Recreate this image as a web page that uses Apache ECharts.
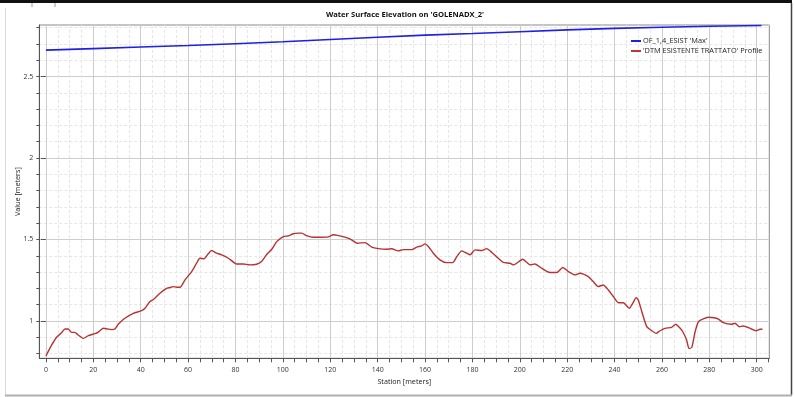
<!DOCTYPE html>
<html>
<head>
<meta charset="utf-8">
<script src="https://cdn.jsdelivr.net/npm/echarts@6/dist/echarts.min.js"></script>
<style>
html,body{margin:0;padding:0;background:#fff;}
#chart{width:794px;height:397px;}
</style>
</head>
<body>
<div id="chart"></div>
<script>
// ---- data ----
const wseStation = [0, 20, 40, 60, 80, 100, 120, 140, 160, 180, 200, 220, 240, 260, 280, 302];
const wseValue = [2.662, 2.671, 2.681, 2.690, 2.701, 2.713, 2.727, 2.741, 2.754, 2.764, 2.775, 2.786, 2.795, 2.802, 2.808, 2.813];

const profStation = [0, 1.2, 2.4, 4.5, 6.6, 8.0, 9.4, 10.8, 12.2, 13.6, 15.8, 17.9, 20.7, 22.1, 24.2, 25.9, 27.7, 29.1, 30.5, 33.3,
  36.9, 40.4, 41.8, 43.9, 45.6, 48.1, 50.9, 52.3, 53.7, 55.2, 56.6, 58.7, 61.5, 63.6, 65.0, 66.7, 68.5, 69.9, 72.0, 74.2,
  77.0, 80.5, 83.3, 86.1, 88.9, 91.0, 93.1, 95.3, 97.4, 100.2, 102.3, 104.4, 106.5, 107.9, 110.0, 112.8, 115.7, 119.2, 121.3, 124.1,
  126.2, 129.0, 131.4, 134.7, 137.5, 140.3, 143.8, 145.9, 148.7, 150.8, 154.4, 156.5, 158.6, 160.0, 161.4, 163.5, 166.3, 169.1, 171.7, 173.4,
  175.5, 177.6, 179.0, 181.1, 183.9, 186.0, 188.1, 190.9, 193.0, 195.9, 197.4, 199.4, 201.2, 202.9, 204.3, 206.4, 209.2, 212.7, 215.6, 218.1,
  220.5, 223.3, 225.4, 228.9, 231.0, 233.1, 235.2, 237.4, 239.5, 241.6, 243.7, 246.2, 247.7, 249.1, 250.0, 251.5, 253.6, 255.7, 257.5, 259.2,
  261.3, 264.1, 265.8, 267.3, 268.8, 270.4, 271.4, 272.6, 274.0, 275.4, 277.2, 279.6, 282.0, 283.8, 285.9, 289.4, 290.8, 292.7, 294.3, 296.5,
  299.6, 301.4, 302.4];
const profValue = [0.785, 0.820, 0.852, 0.900, 0.928, 0.951, 0.951, 0.930, 0.930, 0.914, 0.893, 0.910, 0.922, 0.932, 0.955, 0.951, 0.947, 0.951, 0.980, 1.017,
  1.047, 1.063, 1.078, 1.119, 1.135, 1.170, 1.200, 1.205, 1.211, 1.207, 1.207, 1.252, 1.303, 1.355, 1.385, 1.381, 1.412, 1.432, 1.416, 1.406,
  1.385, 1.350, 1.350, 1.344, 1.348, 1.365, 1.406, 1.440, 1.487, 1.518, 1.522, 1.535, 1.539, 1.539, 1.524, 1.514, 1.514, 1.516, 1.529, 1.522,
  1.514, 1.498, 1.477, 1.481, 1.453, 1.444, 1.440, 1.443, 1.430, 1.438, 1.438, 1.453, 1.461, 1.473, 1.457, 1.416, 1.375, 1.358, 1.358, 1.395,
  1.430, 1.416, 1.406, 1.436, 1.432, 1.444, 1.422, 1.385, 1.360, 1.354, 1.344, 1.362, 1.379, 1.360, 1.344, 1.350, 1.324, 1.297, 1.297, 1.328,
  1.303, 1.283, 1.293, 1.272, 1.242, 1.211, 1.221, 1.190, 1.149, 1.112, 1.112, 1.078, 1.109, 1.143, 1.129, 1.057, 0.965, 0.940, 0.924, 0.940,
  0.955, 0.961, 0.980, 0.961, 0.934, 0.883, 0.832, 0.838, 0.934, 0.996, 1.012, 1.023, 1.020, 1.012, 0.990, 0.980, 0.986, 0.965, 0.969, 0.959,
  0.940, 0.949, 0.949];

const xLabelTicks = [0, 20, 40, 60, 80, 100, 120, 140, 160, 180, 200, 220, 240, 260, 280, 300];
const xMinorTicks = [0,5,10,15,20,25,30,35,40,45,50,55,60,65,70,75,80,85,90,95,100,105,110,115,120,125,130,135,140,145,150,155,160,165,170,175,180,185,190,195,200,205,210,215,220,225,230,235,240,245,250,255,260,265,270,275,280,285,290,295,300,305];
const yLabelTicks = [1, 1.5, 2, 2.5];
const yMinorTicks = [0.8,0.9,1,1.1,1.2,1.3,1.4,1.5,1.6,1.7,1.8,1.9,2,2.1,2.2,2.3,2.4,2.5,2.6,2.7,2.8];

const seriesNames = ["OF_1,4_ESIST 'Max'", "'DTM ESISTENTE TRATTATO' Profile"];
const titleText = "Water Surface Elevation on 'GOLENADX_2'";

const xMin = -2.8, xMax = 305.3, yMin = 0.771, yMax = 2.816;
const FONT = 'Open Sans';

const chart = echarts.init(document.getElementById('chart'), null, {renderer: 'canvas'});

const baseX = {type: 'value', min: xMin, max: xMax, position: 'bottom'};
const baseY = {type: 'value', min: yMin, max: yMax, position: 'left'};

const option = {
  animation: false,
  backgroundColor: '#fff',
  textStyle: {fontFamily: FONT},
  title: {
    text: titleText,
    left: 405, top: 11, textAlign: 'center', padding: 0,
    textStyle: {fontFamily: FONT, fontSize: 7.6, fontWeight: 'bold', color: '#111'}
  },
  legend: {
    orient: 'vertical', left: 631, top: 36, padding: 0,
    itemWidth: 10, itemHeight: 2, itemGap: 0,
    icon: 'rect',
    textStyle: {fontFamily: FONT, fontSize: 7.4, color: '#222', lineHeight: 10, padding: [0,0,0,-3]},
    data: seriesNames
  },
  grid: {
    left: 39.3, right: 794 - 769.3, top: 25, bottom: 397 - 358.3,
    show: true, borderColor: '#8a8a8a', borderWidth: 1, backgroundColor: '#fff',
    containLabel: false, outerBoundsMode: 'none'
  },
  xAxis: [
    Object.assign({}, baseX, {
      name: 'Station [meters]', nameLocation: 'middle', nameGap: 17,
      nameTextStyle: {fontFamily: FONT, fontSize: 7.2, color: '#222'},
      axisLine: {show: true, onZero: false, lineStyle: {color: '#555', width: 1}},
      axisTick: {show: true, customValues: xMinorTicks, length: 4, lineStyle: {color: '#555'}},
      axisLabel: {customValues: xLabelTicks, fontFamily: FONT, fontSize: 7, color: '#333', margin: 8},
      splitLine: {show: true, lineStyle: {color: '#e6e6e6', type: [3, 2], width: 1}}
    }),
    Object.assign({}, baseX, {
      axisLine: {show: false},
      axisTick: {show: false, customValues: xLabelTicks},
      axisLabel: {show: false, customValues: xLabelTicks},
      splitLine: {show: true, lineStyle: {color: '#cdcdcd', width: 1}}
    })
  ],
  yAxis: [
    Object.assign({}, baseY, {
      name: 'Value [meters]', nameLocation: 'middle', nameGap: 18, nameMoveOverlap: false,
      nameTextStyle: {fontFamily: FONT, fontSize: 7.2, color: '#222'},
      axisLine: {show: true, onZero: false, lineStyle: {color: '#555', width: 1}},
      axisTick: {show: true, customValues: yMinorTicks, length: 3, lineStyle: {color: '#555'}},
      axisLabel: {customValues: yLabelTicks, fontFamily: FONT, fontSize: 7, color: '#333', margin: 6},
      splitLine: {show: true, lineStyle: {color: '#e6e6e6', type: [3, 2], width: 1}}
    }),
    Object.assign({}, baseY, {
      axisLine: {show: false},
      axisTick: {show: true, customValues: yLabelTicks, length: 5, lineStyle: {color: '#555'}},
      axisLabel: {show: false, customValues: yLabelTicks},
      splitLine: {show: true, lineStyle: {color: '#cdcdcd', width: 1}}
    })
  ],
  series: [
    {
      name: seriesNames[0], type: 'line', xAxisIndex: 0, yAxisIndex: 0,
      data: wseStation.map((s, i) => [s, wseValue[i]]),
      showSymbol: false, symbol: 'none', smooth: false,
      lineStyle: {color: '#1f1fe6', width: 1.6}, itemStyle: {color: '#1f1fe6'}, z: 5
    },
    {
      name: seriesNames[1], type: 'line', xAxisIndex: 0, yAxisIndex: 0,
      data: profStation.map((s, i) => [s, profValue[i]]),
      showSymbol: false, symbol: 'none', smooth: 0.2,
      lineStyle: {color: '#b83232', width: 1.4}, itemStyle: {color: '#c0392b'}, z: 5
    }
  ],
  graphic: [
    {type: 'rect', shape: {x: 0, y: 0, width: 792, height: 3}, style: {fill: '#111'}, silent: true},
    {type: 'line', shape: {x1: 32, y1: 3, x2: 32, y2: 7}, style: {stroke: '#999', lineWidth: 1}, silent: true},
    {type: 'line', shape: {x1: 55, y1: 3, x2: 55, y2: 7}, style: {stroke: '#999', lineWidth: 1}, silent: true},
    {type: 'line', shape: {x1: 5.5, y1: 8, x2: 5.5, y2: 395}, style: {stroke: '#d8d8d8', lineWidth: 1}, silent: true},
    {type: 'line', shape: {x1: 791.5, y1: 3, x2: 791.5, y2: 395}, style: {stroke: '#444', lineWidth: 1.5}, silent: true},
    {type: 'line', shape: {x1: 5, y1: 395.5, x2: 792, y2: 395.5}, style: {stroke: '#b0b0b0', lineWidth: 2}, silent: true}
  ]
};
chart.setOption(option);
</script>
</body>
</html>
